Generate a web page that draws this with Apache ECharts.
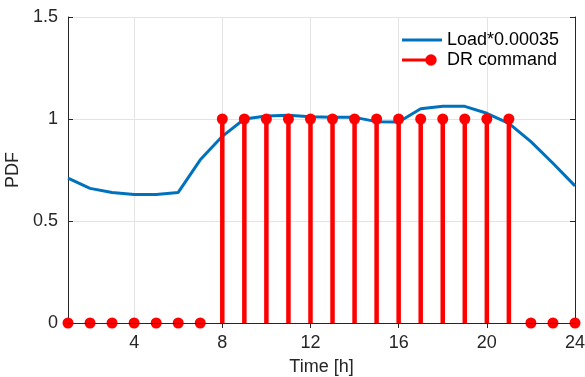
<!DOCTYPE html>
<html>
<head>
<meta charset="utf-8">
<script src="https://cdn.jsdelivr.net/npm/echarts@6/dist/echarts.min.js"></script>
<style>
  html, body { margin: 0; padding: 0; background: #fff; }
  #chart { width: 585px; height: 377px; }
</style>
</head>
<body>
<div id="chart"></div>
<script>
// Hourly profile: scaled load and demand-response command
const hours = [1, 2, 3, 4, 5, 6, 7, 8, 9, 10, 11, 12, 13, 14, 15, 16, 17, 18, 19, 20, 21, 22, 23, 24];
const loadScaled = [0.71, 0.66, 0.64, 0.63, 0.63, 0.64, 0.80, 0.915, 1.00, 1.015, 1.018, 1.011,
                    1.008, 1.008, 0.987, 0.985, 1.05, 1.062, 1.062, 1.028, 0.979, 0.889, 0.783, 0.672];
const drCommand = [0, 0, 0, 0, 0, 0, 0, 1, 1, 1, 1, 1, 1, 1, 1, 1, 1, 1, 1, 1, 1, 0, 0, 0];
const xTicks = [4, 8, 12, 16, 20, 24];
const yTicks = { min: 0, max: 1.5, step: 0.5 };

const FONT = '"Liberation Sans", Arial, Helvetica, sans-serif';
const FONT_SIZE = 18;
const AXIS_COLOR = '#262626';
const BLUE = '#0072BD';
const RED = '#ff0000';

const loadData = hours.map((h, i) => [h, loadScaled[i]]);
const drData = hours.map((h, i) => [h, drCommand[i]]);

const chart = echarts.init(document.getElementById('chart'), null, { renderer: 'canvas' });

const tickCommon = { show: true, inside: true, length: 5, lineStyle: { color: AXIS_COLOR, width: 1 } };

chart.setOption({
  animation: false,
  backgroundColor: '#fff',
  grid: { left: 68, right: 10, top: 17, bottom: 54, containLabel: false, outerBoundsMode: 'none' },
  legend: {
    orient: 'vertical',
    left: 392,
    top: 26,
    itemWidth: 45,
    itemHeight: 12,
    itemGap: 2,
    textStyle: { fontFamily: FONT, fontSize: FONT_SIZE, color: '#000' },
    itemStyle: { borderWidth: 0 },
    data: [
      { name: 'Load*0.00035', icon: 'path://M0,0 M5,4.5 L45,4.5 L45,7.5 L5,7.5 Z M45,12' },
      { name: 'DR command', icon: 'path://M0,0 M5,4.5 L34,4.5 L34,7.5 L5,7.5 Z M39.7,6 A5.7,5.7 0 1,1 28.3,6 A5.7,5.7 0 1,1 39.7,6 Z M45,12' }
    ]
  },
  xAxis: [
    {
      type: 'value', position: 'bottom', min: 1, max: 24,
      name: 'Time [h]', nameLocation: 'middle', nameGap: 35,
      nameTextStyle: { fontFamily: FONT, fontSize: FONT_SIZE, color: AXIS_COLOR },
      axisLine: { show: true, lineStyle: { color: AXIS_COLOR, width: 1 } },
      axisTick: Object.assign({ customValues: xTicks }, tickCommon),
      axisLabel: { customValues: xTicks, margin: 11, fontFamily: FONT, fontSize: FONT_SIZE, color: AXIS_COLOR },
      splitLine: { show: true, lineStyle: { color: '#e3e3e3', width: 1 } }
    },
    {
      type: 'value', position: 'top', min: 1, max: 24,
      axisLine: { show: true, lineStyle: { color: AXIS_COLOR, width: 1 } },
      axisTick: Object.assign({ customValues: xTicks }, tickCommon),
      axisLabel: { show: false },
      splitLine: { show: false }
    },
    {
      // bottom line redrawn above the stem markers
      type: 'value', position: 'bottom', min: 1, max: 24, z: 10,
      axisLine: { show: true, lineStyle: { color: AXIS_COLOR, width: 1 } },
      axisTick: { show: false }, axisLabel: { show: false }, splitLine: { show: false }
    }
  ],
  yAxis: [
    {
      type: 'value', position: 'left', min: yTicks.min, max: yTicks.max, interval: yTicks.step,
      name: 'PDF', nameLocation: 'middle', nameGap: 46, nameRotate: 90,
      nameTextStyle: { fontFamily: FONT, fontSize: FONT_SIZE, color: AXIS_COLOR },
      axisLine: { show: true, lineStyle: { color: AXIS_COLOR, width: 1 } },
      axisTick: tickCommon,
      axisLabel: { margin: 10, fontFamily: FONT, fontSize: FONT_SIZE, color: AXIS_COLOR },
      splitLine: { show: true, lineStyle: { color: '#e3e3e3', width: 1 } }
    },
    {
      type: 'value', position: 'right', min: yTicks.min, max: yTicks.max, interval: yTicks.step,
      axisLine: { show: true, lineStyle: { color: AXIS_COLOR, width: 1 } },
      axisTick: tickCommon,
      axisLabel: { show: false },
      splitLine: { show: false }
    }
  ],
  series: [
    {
      name: 'Load*0.00035',
      type: 'line',
      xAxisIndex: 0, yAxisIndex: 0,
      data: loadData,
      symbol: 'none',
      color: BLUE,
      lineStyle: { color: BLUE, width: 3 },
      z: 2
    },
    {
      name: 'DR command',
      type: 'custom',
      xAxisIndex: 0, yAxisIndex: 0,
      data: drData,
      itemStyle: { color: RED },
      z: 3,
      renderItem: function (params, api) {
        const t = api.value(0);
        const v = api.value(1);
        const base = api.coord([t, 0]);
        const head = api.coord([t, v]);
        return {
          type: 'group',
          children: [
            { type: 'line', shape: { x1: base[0], y1: base[1], x2: head[0], y2: head[1] },
              style: { stroke: RED, lineWidth: 4.5 } },
            { type: 'circle', shape: { cx: head[0], cy: head[1], r: 5.5 },
              style: { fill: RED } }
          ]
        };
      }
    }
  ]
});
</script>
</body>
</html>
